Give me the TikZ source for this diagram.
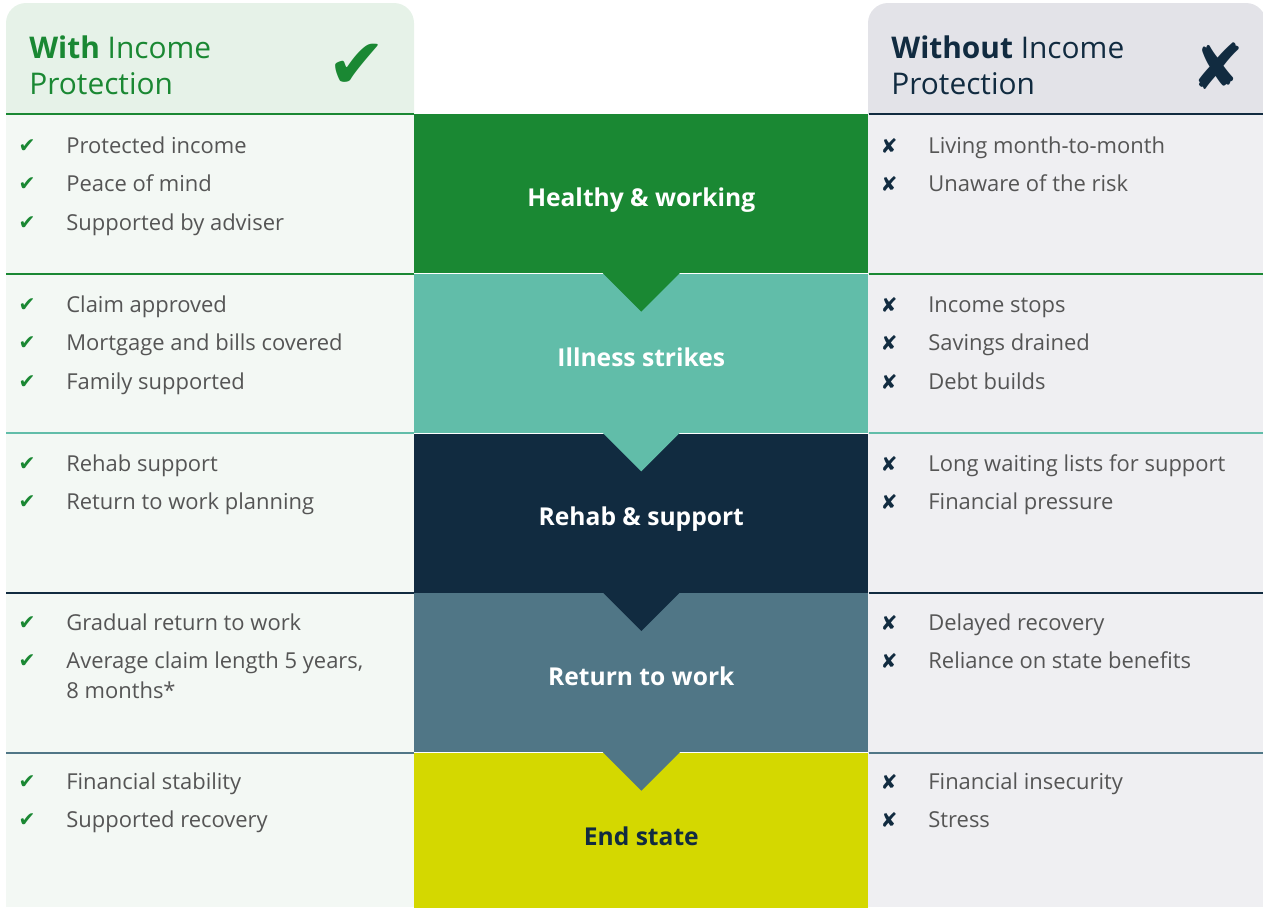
\documentclass[tikz,border=0pt]{standalone}
\usepackage{fontspec}
\setmainfont{Open Sans}
\newfontfamily\symfont{DejaVu Sans}
\usetikzlibrary{positioning, calc}
\definecolor{ipgreen}{HTML}{1A8833}
\definecolor{ipteal}{HTML}{61BDA9}
\definecolor{ipnavy}{HTML}{112B40}
\definecolor{ipslate}{HTML}{507686}
\definecolor{ipyellow}{HTML}{D4D800}
\definecolor{withhead}{HTML}{E6F2E8}
\definecolor{withbg}{HTML}{F3F8F4}
\definecolor{withouthead}{HTML}{E3E3E8}
\definecolor{withoutbg}{HTML}{EFEFF2}
\definecolor{itemgrey}{HTML}{555555}
\tikzset{
    stage/.style={
        rectangle, inner sep=0pt,
        minimum width=9.08cm, minimum height=3.18cm,
        text height=0.55cm, text depth=0.05cm,
        font=\bfseries\fontsize{14}{17}\selectfont, text=white
    },
    header/.style={
        anchor=west, inner sep=0pt, align=left,
        font=\fontsize{17}{20.5}\selectfont
    },
    bigmark/.style={inner sep=0pt, font=\symfont\fontsize{40}{40}\selectfont},
    item/.style={
        anchor=west, inner sep=0pt,
        text height=0.38cm, text depth=0.08cm,
        font=\fontsize{12.5}{15}\selectfont, text=itemgrey
    },
    tickmark/.style={inner sep=0pt, label distance=0.6cm, font=\symfont\fontsize{11.5}{12}\selectfont},
    pro/.style={item, label={[tickmark, text=ipgreen]left:✔}},
    con/.style={item, label={[tickmark, text=ipnavy]left:✘}},
    sepline/.style={line width=1.2pt}
}

\begin{document}
\begin{tikzpicture}[x=0.02cm, y=-0.02cm]
\useasboundingbox (0,0) rectangle (1263,907);

% Column backgrounds
\fill[withbg] (6,114) rectangle (414,907);
\fill[withoutbg] (868,114) rectangle (1263,907);
\fill[withhead] (6,114) [rounded corners=0.4cm] -- (6,3) -- (414,3) [sharp corners] -- (414,114) -- cycle;
\fill[withouthead] (868,114) [rounded corners=0.4cm] -- (868,3) -- (1266,3) [sharp corners] -- (1266,114) -- cycle;

% Headers
\node[header, text=ipgreen] (withtitle) at (29,65) {\textbf{With} Income\\Protection};
\node[bigmark, text=ipgreen] (withmark) at (357,66) {✔};
\node[header, text=ipnavy] (withouttitle) at (891,65) {\textbf{Without} Income\\Protection};
\node[bigmark, text=ipnavy, font=\symfont\fontsize{36}{36}\selectfont] (withoutmark) at (1218,66) {✘};

% Stages (middle column)
\node[stage, fill=ipgreen, anchor=north west] (healthy) at (414,114) {Healthy \& working};
\node[stage, fill=ipteal, below=0pt of healthy] (illness) {Illness strikes};
\node[stage, fill=ipnavy, below=0pt of illness] (rehab) {Rehab \& support};
\node[stage, fill=ipslate, below=0pt of rehab] (backtowork) {Return to work};
\node[stage, fill=ipyellow, text=ipnavy, below=0pt of backtowork] (endstate) {End state};

% Notches between stages
\fill[ipgreen] ($(healthy.south)+(-38.5,-0.5)$) -- ++(77,0) -- ($(healthy.south)+(0,38)$) -- cycle;
\fill[ipteal] ($(illness.south)+(-38.5,-0.5)$) -- ++(77,0) -- ($(illness.south)+(0,38)$) -- cycle;
\fill[ipnavy] ($(rehab.south)+(-38.5,-0.5)$) -- ++(77,0) -- ($(rehab.south)+(0,38)$) -- cycle;
\fill[ipslate] ($(backtowork.south)+(-38.5,-0.5)$) -- ++(77,0) -- ($(backtowork.south)+(0,38)$) -- cycle;

% Separator lines
\draw[sepline, ipgreen] (healthy.north west) -- ++(-408,0);
\draw[sepline, ipnavy] (healthy.north east) -- ++(395,0);
\draw[sepline, ipgreen] (healthy.south west) -- ++(-408,0);
\draw[sepline, ipgreen] (healthy.south east) -- ++(395,0);
\draw[sepline, ipteal] (illness.south west) -- ++(-408,0);
\draw[sepline, ipteal] (illness.south east) -- ++(395,0);
\draw[sepline, ipnavy] (rehab.south west) -- ++(-408,0);
\draw[sepline, ipnavy] (rehab.south east) -- ++(395,0);
\draw[sepline, ipslate] (backtowork.south west) -- ++(-408,0);
\draw[sepline, ipslate] (backtowork.south east) -- ++(395,0);

% With income protection
\node[pro] (w1a) at (66,146) {Protected income};
\node[pro] (w1b) at (66,184) {Peace of mind};
\node[pro] (w1c) at (66,223) {Supported by adviser};
\node[pro] (w2a) at (66,305) {Claim approved};
\node[pro] (w2b) at (66,343) {Mortgage and bills covered};
\node[pro] (w2c) at (66,382) {Family supported};
\node[pro] (w3a) at (66,464) {Rehab support};
\node[pro] (w3b) at (66,502) {Return to work planning};
\node[pro] (w4a) at (66,623) {Gradual return to work};
\node[pro] (w4b) at (66,661) {Average claim length 5 years,};
\node[item] (w4c) at (66,691) {8 months*};
\node[pro] (w5a) at (66,782) {Financial stability};
\node[pro] (w5b) at (66,820) {Supported recovery};

% Without income protection
\node[con] (o1a) at (928,146) {Living month-to-month};
\node[con] (o1b) at (928,184) {Unaware of the risk};
\node[con] (o2a) at (928,305) {Income stops};
\node[con] (o2b) at (928,343) {Savings drained};
\node[con] (o2c) at (928,382) {Debt builds};
\node[con] (o3a) at (928,464) {Long waiting lists for support};
\node[con] (o3b) at (928,502) {Financial pressure};
\node[con] (o4a) at (928,623) {Delayed recovery};
\node[con] (o4b) at (928,661) {Reliance on state benefits};
\node[con] (o5a) at (928,782) {Financial insecurity};
\node[con] (o5b) at (928,820) {Stress};

\end{tikzpicture}
\end{document}
